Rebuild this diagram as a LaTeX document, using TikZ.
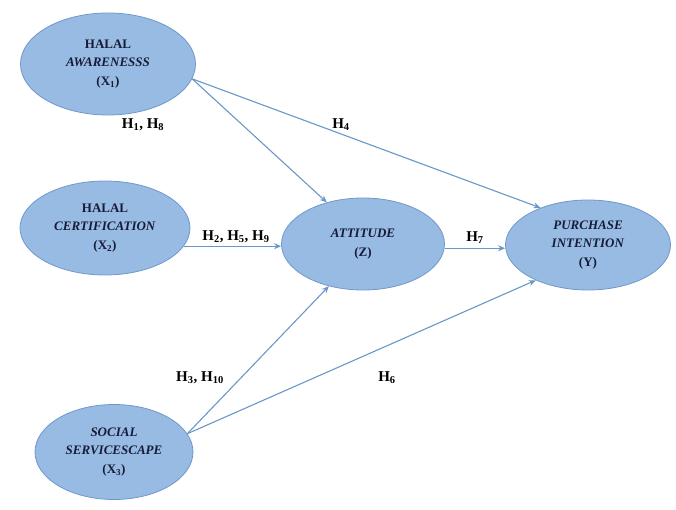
\documentclass[tikz,border=0pt]{standalone}
\usepackage{fontspec}
\setmainfont{Liberation Serif}
\usetikzlibrary{shapes.geometric,arrows.meta}
\definecolor{ovalfill}{RGB}{152,187,227}
\definecolor{ovalline}{RGB}{112,152,202}
\definecolor{arrowblue}{RGB}{104,152,200}
\definecolor{labelnavy}{RGB}{22,28,56}

\begin{document}
\begin{tikzpicture}[
    x=1pt, y=-1pt,
    construct/.style={ellipse, draw=ovalline, fill=ovalfill, line width=0.8pt, inner sep=0pt, align=center, text=labelnavy, font=\fontsize{13}{18.5}\selectfont\bfseries},
    link/.style={draw=arrowblue, line width=1.1pt, -{Stealth[length=7pt,width=6pt]}},
    hyp/.style={font=\fontsize{15}{17}\selectfont\bfseries}
]
\useasboundingbox (0,0) rectangle (676,510);

% Define constructs
\node[construct, minimum width=175, minimum height=102] (X1) at (108,64) {HALAL\\\textit{AWARENESSS}\\(X\textsubscript{1})};
\node[construct, minimum width=170, minimum height=94] (X2) at (105,228) {HALAL\\\textit{CERTIFICATION}\\(X\textsubscript{2})};
\node[construct, minimum width=158, minimum height=95] (X3) at (114,452) {\textit{SOCIAL}\\\textit{SERVICESCAPE}\\(X\textsubscript{3})};
\node[construct, minimum width=163, minimum height=92] (Z) at (363,244) {\textit{ATTITUDE}\\(Z)};
\node[construct, minimum width=165, minimum height=90] (Y) at (588,245) {\textit{PURCHASE}\\\textit{INTENTION}\\(Y)};

% Draw paths
\draw[link] (X1.-10) -- (Z.131);
\draw[link] (X1.-10) -- (Y.142);
\draw[link] (X2.-13) -- (X2.-13 -| Z.west);
\draw[link] (Z.-3) -- (Z.-3 -| Y.west);
\draw[link] (X3.14) -- (Z.231);
\draw[link] (X3.14) -- (Y.214);

% Hypothesis labels
\node[hyp] (h18) at (143,125) {H\textsubscript{1}, H\textsubscript{8}};
\node[hyp] (h4) at (341,125) {H\textsubscript{4}};
\node[hyp] (h259) at (236,237) {H\textsubscript{2}, H\textsubscript{5}, H\textsubscript{9}};
\node[hyp] (h7) at (475,238) {H\textsubscript{7}};
\node[hyp] (h310) at (200,378) {H\textsubscript{3}, H\textsubscript{10}};
\node[hyp] (h6) at (387,378) {H\textsubscript{6}};

\end{tikzpicture}
\end{document}
